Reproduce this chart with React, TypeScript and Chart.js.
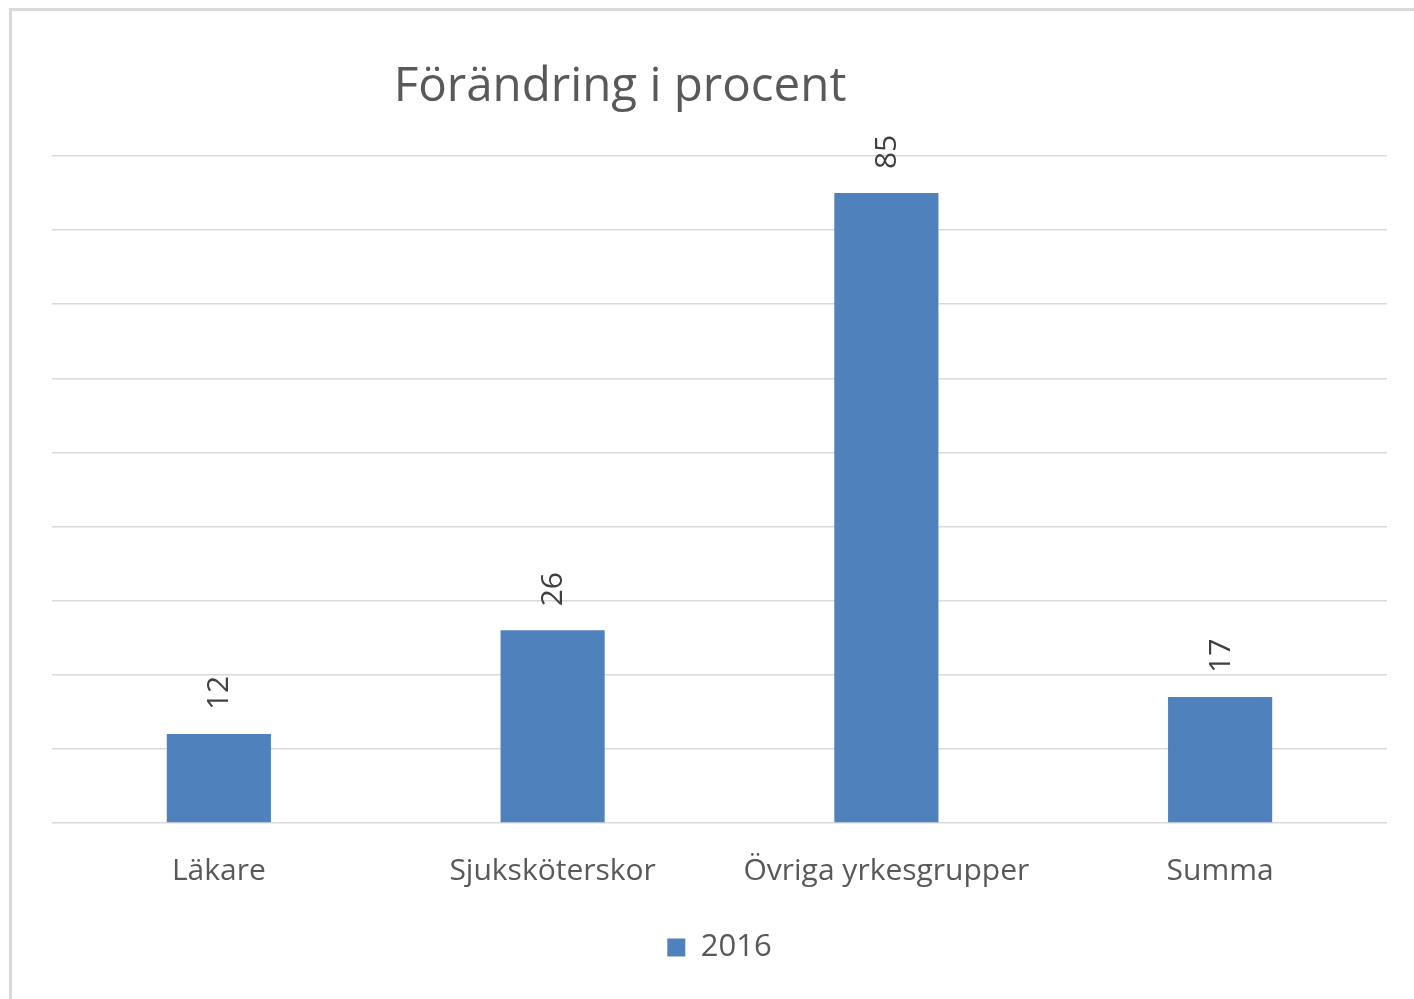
import React, { useEffect, useRef } from "react";
import { Chart, registerables } from "chart.js";

Chart.register(...registerables);

const chartTitle = "Förändring i procent";
const categories = ["Läkare", "Sjuksköterskor", "Övriga yrkesgrupper", "Summa"];
const seriesLabel = "2016";
const seriesValues = [12, 26, 85, 17];
const yMin = 0;
const yMax = 90;
const yStep = 10;

const FONT = "'Open Sans', 'Noto Sans', sans-serif";
const BAR_COLOR = "#4F81BD";

const dataLabelPlugin = {
  id: "rotatedDataLabels",
  afterDatasetsDraw(chart: any) {
    const ctx = chart.ctx;
    chart.data.datasets.forEach((ds: any, di: number) => {
      const meta = chart.getDatasetMeta(di);
      meta.data.forEach((bar: any, i: number) => {
        ctx.save();
        ctx.translate(bar.x, bar.y - 24);
        ctx.rotate(-Math.PI / 2);
        ctx.font = `30px ${FONT}`;
        ctx.fillStyle = "#404040";
        ctx.textAlign = "left";
        ctx.textBaseline = "middle";
        ctx.fillText(String(ds.data[i]), 0, 1);
        ctx.restore();
      });
    });
  },
};

export default function App() {
  const ref = useRef<HTMLCanvasElement | null>(null);

  useEffect(() => {
    if (!ref.current) return;
    const chart = new Chart(ref.current, {
      type: "bar",
      data: {
        labels: categories,
        datasets: [
          {
            label: seriesLabel,
            data: seriesValues,
            backgroundColor: BAR_COLOR,
            borderWidth: 0,
            barPercentage: 0.312,
            categoryPercentage: 1,
          },
        ],
      },
      options: {
        animation: false,
        responsive: false,
        maintainAspectRatio: false,
        layout: { padding: { left: 0, right: 0, top: 0, bottom: 26 } },
        plugins: {
          title: {
            display: true,
            text: chartTitle,
            color: "#595959",
            font: { family: FONT, size: 47.5, weight: "normal", lineHeight: 1.2 },
            padding: { top: 59, bottom: 40 },
          },
          legend: {
            display: true,
            position: "bottom",
            fullSize: false,
            labels: {
              color: "#595959",
              font: { family: FONT, size: 31 },
              boxWidth: 18,
              boxHeight: 18,
              padding: 10,
            },
          },
          tooltip: { enabled: false },
        },
        scales: {
          x: {
            grid: { display: false, drawTicks: false },
            border: { display: false },
            ticks: {
              color: "#595959",
              font: { family: FONT, size: 30 },
              padding: 30,
              maxRotation: 0,
              autoSkip: false,
            },
            afterFit: (scale: any) => {
              scale.height = 99;
            },
          },
          y: {
            min: yMin,
            max: yMax,
            ticks: { stepSize: yStep, display: false },
            grid: { color: "#d9d9d9", lineWidth: 1.5, drawTicks: false },
            border: { display: false },
            afterFit: (scale: any) => {
              scale.width = 199;
            },
          },
        },
      },
      plugins: [dataLabelPlugin],
    });
    return () => chart.destroy();
  }, []);

  return (
    <div
      style={{
        position: "fixed",
        left: 0,
        top: 0,
        width: 1414,
        height: 999,
        overflow: "hidden",
        background: "#ffffff",
      }}
    >
      <div
        style={{
          position: "absolute",
          left: 9,
          top: 8,
          width: 2000,
          height: 2000,
          border: "3px solid #d9d9d9",
          boxSizing: "border-box",
          background: "#ffffff",
        }}
      />
      <canvas
        ref={ref}
        width={1534}
        height={999}
        style={{ position: "absolute", left: -147, top: 0, width: 1534, height: 999 }}
      />
    </div>
  );
}
